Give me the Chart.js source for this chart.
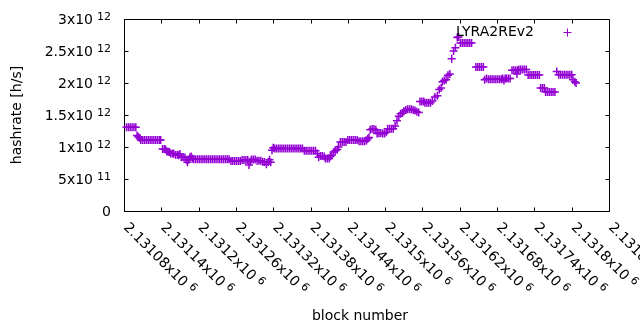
<!DOCTYPE html>
<html>
<head>
<meta charset="utf-8">
<title>LYRA2REv2 hashrate</title>
<script src="https://cdn.jsdelivr.net/npm/chart.js@4.4.0/dist/chart.umd.min.js"></script>
<style>
  html, body { margin: 0; padding: 0; background: #fff; }
  canvas { display: block; }
</style>
</head>
<body>
<canvas id="hashChart" width="640" height="330"></canvas>
<script>
// block numbers (x) and hashrate in units of 10^12 h/s (y)
const blocks = [
  2131084, 2131087, 2131090, 2131093, 2131096, 2131099,
  2131101, 2131103, 2131105,
  2131107, 2131110, 2131113, 2131116, 2131119, 2131122, 2131125, 2131128, 2131131, 2131134, 2131137, 2131139,
  2131142, 2131145, 2131147, 2131149, 2131151, 2131153, 2131155, 2131158, 2131160, 2131163, 2131166,
  2131168, 2131170, 2131172, 2131175, 2131178, 2131180, 2131182, 2131184, 2131186, 2131188, 2131190,
  2131192, 2131195, 2131198, 2131201, 2131204, 2131207, 2131210, 2131213, 2131216, 2131219,
  2131222, 2131225, 2131228, 2131231, 2131234, 2131237, 2131240, 2131243, 2131246, 2131249,
  2131252, 2131255, 2131258, 2131261, 2131264, 2131267,
  2131270, 2131273, 2131276, 2131279, 2131281, 2131283,
  2131285, 2131288, 2131291, 2131294, 2131297, 2131300,
  2131303, 2131306, 2131309, 2131312, 2131314, 2131316, 2131318, 2131320,
  2131322, 2131325, 2131328, 2131331, 2131334, 2131337, 2131340, 2131343,
  2131346, 2131349, 2131352, 2131355, 2131358, 2131361, 2131364, 2131367,
  2131370, 2131373, 2131376, 2131379, 2131382, 2131385, 2131388,
  2131391, 2131393, 2131396, 2131399, 2131402, 2131404, 2131407, 2131410, 2131412, 2131414,
  2131417, 2131420, 2131423, 2131425,
  2131428, 2131431, 2131434, 2131437, 2131440, 2131443, 2131446, 2131449, 2131452, 2131455,
  2131458, 2131461, 2131464, 2131467, 2131470, 2131472, 2131474,
  2131476, 2131479, 2131482, 2131485, 2131487, 2131490, 2131493, 2131496, 2131499, 2131502,
  2131504, 2131507, 2131510, 2131513, 2131516, 2131519,
  2131522, 2131525, 2131528, 2131530, 2131533, 2131536, 2131539, 2131542, 2131545, 2131548, 2131551, 2131554,
  2131556, 2131559, 2131562, 2131564, 2131567, 2131570, 2131573,
  2131576, 2131580, 2131584, 2131587, 2131590, 2131592, 2131595, 2131598, 2131601, 2131604,
  2131607, 2131610, 2131613, 2131616, 2131618,
  2131621, 2131624, 2131627, 2131630, 2131633, 2131636, 2131639,
  2131646, 2131649, 2131652, 2131655, 2131658,
  2131660, 2131663, 2131666, 2131669, 2131672, 2131675, 2131678, 2131681, 2131684, 2131687,
  2131689, 2131691, 2131693, 2131695, 2131698, 2131701,
  2131704, 2131707, 2131710, 2131712, 2131713,
  2131715, 2131718, 2131721, 2131724, 2131727,
  2131730, 2131733, 2131736, 2131739, 2131742, 2131745, 2131748,
  2131750, 2131753, 2131756, 2131758, 2131761, 2131764, 2131767, 2131770, 2131773,
  2131776, 2131779, 2131782, 2131785, 2131788, 2131791, 2131794, 2131797, 2131800,
  2131802, 2131805, 2131807
];
const hashrateE12 = [
  1.31, 1.31, 1.31, 1.31, 1.31, 1.31,
  1.18, 1.16, 1.14,
  1.11, 1.11, 1.11, 1.11, 1.11, 1.11, 1.11, 1.11, 1.11, 1.11, 1.11, 1.11,
  0.97, 0.97, 0.96, 0.93, 0.925, 0.92, 0.90, 0.90, 0.895, 0.875, 0.88,
  0.87, 0.89, 0.84, 0.84, 0.835, 0.80, 0.76, 0.80, 0.84, 0.85, 0.82,
  0.81, 0.81, 0.81, 0.81, 0.81, 0.81, 0.81, 0.81, 0.81, 0.81,
  0.81, 0.81, 0.81, 0.81, 0.81, 0.81, 0.81, 0.81, 0.81, 0.81,
  0.78, 0.78, 0.78, 0.78, 0.78, 0.78,
  0.795, 0.795, 0.795, 0.795, 0.72, 0.775,
  0.805, 0.805, 0.805, 0.785, 0.785, 0.785,
  0.765, 0.765, 0.73, 0.765, 0.80, 0.76, 0.95, 0.99,
  0.975, 0.975, 0.975, 0.975, 0.975, 0.975, 0.975, 0.975,
  0.975, 0.975, 0.975, 0.975, 0.975, 0.975, 0.975, 0.975,
  0.94, 0.94, 0.94, 0.94, 0.94, 0.94, 0.94,
  0.90, 0.84, 0.86, 0.86, 0.85, 0.82, 0.82, 0.82, 0.85, 0.87,
  0.92, 0.94, 0.96, 1.00,
  1.08, 1.08, 1.08, 1.08, 1.11, 1.11, 1.11, 1.11, 1.11, 1.11,
  1.09, 1.09, 1.09, 1.09, 1.10, 1.13, 1.15,
  1.27, 1.28, 1.28, 1.27, 1.21, 1.21, 1.22, 1.21, 1.21, 1.23,
  1.285, 1.285, 1.285, 1.285, 1.33, 1.41,
  1.48, 1.52, 1.53, 1.56, 1.58, 1.59, 1.59, 1.59, 1.58, 1.57, 1.55, 1.54,
  1.71, 1.71, 1.71, 1.69, 1.69, 1.69, 1.69,
  1.72, 1.78, 1.80, 1.90, 1.92, 2.02, 2.04, 2.05, 2.12, 2.14,
  2.38, 2.50, 2.55, 2.71, 2.72,
  2.625, 2.625, 2.625, 2.625, 2.625, 2.625, 2.625,
  2.25, 2.25, 2.25, 2.25, 2.25,
  2.05, 2.07, 2.06, 2.06, 2.06, 2.06, 2.06, 2.06, 2.06, 2.06,
  2.07, 2.04, 2.07, 2.07, 2.07, 2.07,
  2.20, 2.20, 2.20, 2.14, 2.20,
  2.21, 2.21, 2.21, 2.21, 2.21,
  2.125, 2.125, 2.125, 2.125, 2.125, 2.125, 2.125,
  1.92, 1.92, 1.92, 1.86, 1.86, 1.86, 1.86, 1.86, 1.86,
  2.18, 2.13, 2.13, 2.13, 2.13, 2.13, 2.13, 2.13, 2.13,
  2.05, 2.02, 2.00
];

// axis ticks and their labels (gnuplot style "mantissa x10^exp")
const xTickValues = [2131080, 2131140, 2131200, 2131260, 2131320, 2131380, 2131440,
                     2131500, 2131560, 2131620, 2131680, 2131740, 2131800, 2131860];
const xTickMantissa = ['2.13108', '2.13114', '2.1312', '2.13126', '2.13132', '2.13138', '2.13144',
                       '2.1315', '2.13156', '2.13162', '2.13168', '2.13174', '2.1318', '2.13186'];
const xTickExp = '6';
const yTickValues = [0, 0.5e12, 1e12, 1.5e12, 2e12, 2.5e12, 3e12];
const yTickMantissa = ['0', '5', '1', '1.5', '2', '2.5', '3'];
const yTickExp = ['', '11', '12', '12', '12', '12', '12'];

const seriesLabel = 'LYRA2REv2';
const xTitle = 'block number';
const yTitle = 'hashrate [h/s]';

const PURPLE = '#9400d3';
const FONT = '"DejaVu Sans", sans-serif';
const FS = 14, FS_SUP = 11, SUP_GAP = 4;

// texte avec exposant, façon gnuplot
function drawSci(ctx, mant, exp, x, y) {
  ctx.font = FS + 'px ' + FONT;
  const main = exp ? mant + 'x10' : mant;
  ctx.fillText(main, x, y);
  if (exp) {
    const w = ctx.measureText(main).width;
    ctx.font = FS_SUP + 'px ' + FONT;
    ctx.fillText(exp, x + w + SUP_GAP, y - 4.5);
  }
}
function sciWidth(ctx, mant, exp) {
  ctx.font = FS + 'px ' + FONT;
  const main = exp ? mant + 'x10' : mant;
  let w = ctx.measureText(main).width;
  if (exp) {
    ctx.font = FS_SUP + 'px ' + FONT;
    w += SUP_GAP + ctx.measureText(exp).width;
  }
  return w;
}

const gnuplotFrame = {
  id: 'gnuplotFrame',
  beforeDatasetsDraw(chart) {
    const { ctx, chartArea: a, scales: { x, y } } = chart;
    const L = Math.round(a.left) + 0.5, R = Math.round(a.right) + 0.5;
    const T = Math.round(a.top) + 0.5, B = Math.round(a.bottom) + 0.5;
    ctx.save();
    ctx.strokeStyle = '#000';
    ctx.lineWidth = 1;
    ctx.beginPath();
    ctx.rect(L, T, R - L, B - T);
    xTickValues.forEach(v => {
      const px = Math.round(x.getPixelForValue(v)) + 0.5;
      ctx.moveTo(px, B); ctx.lineTo(px, B - 4);
      ctx.moveTo(px, T); ctx.lineTo(px, T + 4);
    });
    yTickValues.forEach(v => {
      const py = Math.round(y.getPixelForValue(v)) + 0.5;
      ctx.moveTo(L, py); ctx.lineTo(L + 4, py);
      ctx.moveTo(R, py); ctx.lineTo(R - 4, py);
    });
    ctx.stroke();
    ctx.restore();
  },
  afterDraw(chart) {
    const { ctx, chartArea: a, scales: { x, y } } = chart;
    ctx.save();
    ctx.fillStyle = '#000';
    ctx.textAlign = 'left';
    ctx.textBaseline = 'alphabetic';

    // y tick labels, right aligned
    yTickValues.forEach((v, i) => {
      const py = y.getPixelForValue(v);
      const w = sciWidth(ctx, yTickMantissa[i], yTickExp[i]);
      drawSci(ctx, yTickMantissa[i], yTickExp[i], a.left - 13 - w, py + 5);
    });

    // x tick labels, rotated -45 (down to the right)
    xTickValues.forEach((v, i) => {
      const px = x.getPixelForValue(v);
      ctx.save();
      ctx.translate(px - 1, a.bottom + 17);
      ctx.rotate(Math.PI / 4);
      drawSci(ctx, xTickMantissa[i], xTickExp, 0, 0);
      ctx.restore();
    });

    // axis titles
    ctx.font = FS + 'px ' + FONT;
    ctx.textAlign = 'center';
    ctx.fillText(xTitle, 360, 320);
    ctx.save();
    ctx.translate(21, (a.top + a.bottom) / 2);
    ctx.rotate(-Math.PI / 2);
    ctx.fillText(yTitle, 0, 0);
    ctx.restore();

    // legend (texte à gauche, symbole à droite)
    ctx.textAlign = 'right';
    ctx.textBaseline = 'middle';
    ctx.fillText(chart.data.datasets[0].label, 534, 32);
    const lx = 567.5, ly = 32.5;
    ctx.strokeStyle = chart.data.datasets[0].pointBorderColor;
    ctx.lineWidth = 1;
    ctx.beginPath();
    ctx.moveTo(lx - 4, ly); ctx.lineTo(lx + 4, ly);
    ctx.moveTo(lx, ly - 4); ctx.lineTo(lx, ly + 4);
    ctx.stroke();
    ctx.restore();
  }
};

const points = blocks.map((b, i) => ({ x: b, y: hashrateE12[i] * 1e12 }));

new Chart(document.getElementById('hashChart'), {
  type: 'scatter',
  data: {
    datasets: [{
      label: seriesLabel,
      data: points,
      pointStyle: 'cross',
      pointRadius: 4,
      pointHoverRadius: 4,
      pointBorderWidth: 1.5,
      pointBorderColor: PURPLE,
      pointBackgroundColor: PURPLE,
      borderColor: PURPLE,
      showLine: false,
      clip: false
    }]
  },
  options: {
    responsive: false,
    animation: false,
    devicePixelRatio: 1,
    layout: { padding: { left: 124, right: 31, top: 19, bottom: 119 } },
    scales: {
      x: { type: 'linear', min: xTickValues[0], max: xTickValues[xTickValues.length - 1], display: false },
      y: { type: 'linear', min: yTickValues[0], max: yTickValues[yTickValues.length - 1], display: false }
    },
    plugins: {
      legend: { display: false },
      tooltip: { enabled: false }
    },
    events: []
  },
  plugins: [gnuplotFrame]
});
</script>
</body>
</html>
